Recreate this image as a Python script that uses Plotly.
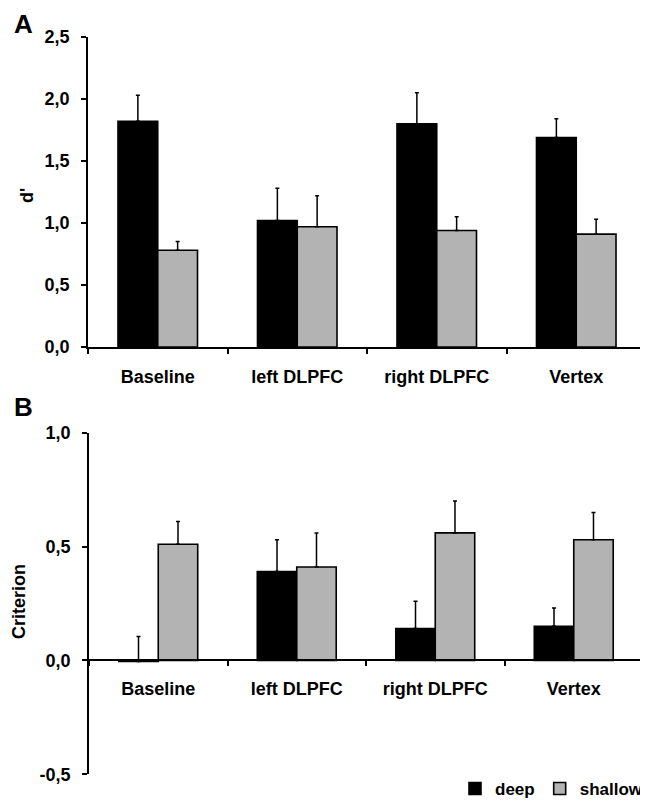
import plotly.graph_objects as go

# ---- data ----
categories = ["Baseline", "left DLPFC", "right DLPFC", "Vertex"]

dprime_deep = [1.82, 1.02, 1.80, 1.69]
dprime_deep_err = [0.21, 0.26, 0.25, 0.15]
dprime_shallow = [0.78, 0.97, 0.94, 0.91]
dprime_shallow_err = [0.07, 0.25, 0.11, 0.12]

crit_deep = [-0.005, 0.39, 0.14, 0.15]
crit_deep_err = [0.11, 0.14, 0.12, 0.08]
crit_shallow = [0.51, 0.41, 0.56, 0.53]
crit_shallow_err = [0.10, 0.15, 0.14, 0.12]

dprime_ticks = [0.0, 0.5, 1.0, 1.5, 2.0, 2.5]
dprime_ticklabels = ["0,0", "0,5", "1,0", "1,5", "2,0", "2,5"]
crit_ticks = [-0.5, 0.0, 0.5, 1.0]
crit_ticklabels = ["-0,5", "0,0", "0,5", "1,0"]

# ---- styling ----
OFF = 8  # browser body margin
W, H = 648 - OFF, 807 - OFF
FONT = "Liberation Sans, Arial, sans-serif"
DEEP_COLOR = "#000000"
SHALLOW_COLOR = "#b3b3b3"


def px_x(p):
    return (p - OFF) / W


def px_y(p):
    return 1 - (p - OFF) / H


fig = go.Figure()


def add_bars(x, y, err, name, color, xa, ya, show):
    fig.add_trace(go.Bar(
        x=x, y=y, name=name, xaxis=xa, yaxis=ya, showlegend=show,
        legendgroup=name,
        marker=dict(color=color, line=dict(color="#000000", width=1.6)),
        error_y=dict(type="data", symmetric=False, array=err,
                     arrayminus=[0] * len(err), color="#000000",
                     thickness=1.5, width=2),
    ))


add_bars(categories, dprime_deep, dprime_deep_err, "deep", DEEP_COLOR, "x", "y", True)
add_bars(categories, dprime_shallow, dprime_shallow_err, "shallow", SHALLOW_COLOR, "x", "y", True)
add_bars(categories, crit_deep, crit_deep_err, "deep", DEEP_COLOR, "x2", "y2", False)
add_bars(categories, crit_shallow, crit_shallow_err, "shallow", SHALLOW_COLOR, "x2", "y2", False)

tickfont = dict(family=FONT, size=18, color="#000000", weight="bold")

xcommon = dict(type="category", showline=True, linecolor="#000000", linewidth=1.8,
               ticks="outside", tickson="boundaries", ticklen=5, tickwidth=1.5,
               tickcolor="#000000", showgrid=False, zeroline=False,
               tickfont=tickfont, automargin=False, fixedrange=True,
               ticklabelstandoff=12)
ycommon = dict(showline=True, linecolor="#000000", linewidth=1.8,
               ticks="outside", ticklen=5, tickwidth=1.5, tickcolor="#000000",
               showgrid=False, zeroline=False, tickfont=tickfont,
               automargin=False, ticklabelstandoff=8)

# panel B: y=0 pixel position
b_top, b_bot = 432.7, 774.3
b_zero_px = b_top + (1.0 - 0.0) / 1.5 * (b_bot - b_top)

fig.update_layout(
    width=W, height=H,
    margin=dict(l=0, r=0, t=0, b=0),
    paper_bgcolor="white", plot_bgcolor="white",
    barmode="group", bargap=0.43, bargroupgap=0.0,
    font=dict(family=FONT, color="#000000"),
    xaxis=dict(domain=[px_x(88), px_x(646)], anchor="y", **xcommon),
    yaxis=dict(domain=[px_y(347), px_y(37)], anchor="x", range=[0, 2.5],
               tickvals=dprime_ticks, ticktext=dprime_ticklabels, **ycommon),
    xaxis2=dict(domain=[px_x(89), px_x(643)], anchor="free",
                position=px_y(b_zero_px), **xcommon),
    yaxis2=dict(domain=[px_y(b_bot), px_y(b_top)], anchor="x2",
                range=[-0.5, 1.0], tickvals=crit_ticks,
                ticktext=crit_ticklabels, **ycommon),
    legend=dict(orientation="h", x=1.0, xanchor="right", y=0.0,
                yanchor="bottom", itemwidth=30, traceorder="normal",
                font=dict(family=FONT, size=17, color="#000000", weight="bold"),
                bgcolor="rgba(0,0,0,0)", tracegroupgap=0, itemclick=False),
    annotations=[
        dict(text="A", x=px_x(23), y=px_y(24), xref="paper", yref="paper",
             showarrow=False, xanchor="center", yanchor="middle",
             font=dict(family=FONT, size=26, weight="bold")),
        dict(text="B", x=px_x(23), y=px_y(407), xref="paper", yref="paper",
             showarrow=False, xanchor="center", yanchor="middle",
             font=dict(family=FONT, size=26, weight="bold")),
        dict(text="d'", x=px_x(27), y=px_y(196), xref="paper", yref="paper",
             showarrow=False, xanchor="center", yanchor="middle", textangle=-90,
             font=dict(family=FONT, size=18, weight="bold")),
        dict(text="Criterion", x=px_x(19), y=px_y(602), xref="paper", yref="paper",
             showarrow=False, xanchor="center", yanchor="middle", textangle=-90,
             font=dict(family=FONT, size=18, weight="bold")),
    ],
)

fig.write_html("out.html")
